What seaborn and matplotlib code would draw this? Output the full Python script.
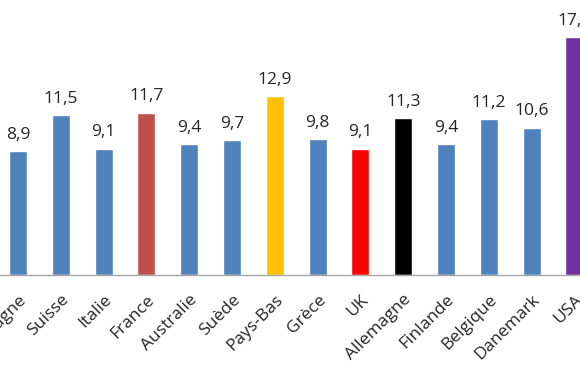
import matplotlib
matplotlib.use("Agg")
import matplotlib.pyplot as plt
import seaborn as sns
import pandas as pd

pays = ["Espagne", "Suisse", "Italie", "France", "Australie", "Suède", "Pays-Bas",
        "Grèce", "UK", "Allemagne", "Finlande", "Belgique", "Danemark", "USA"]
valeurs = [8.9, 11.5, 9.1, 11.7, 9.4, 9.7, 12.9, 9.8, 9.1, 11.3, 9.4, 11.2, 10.6, 17.1]
couleurs = ["#4F81BD", "#4F81BD", "#4F81BD", "#C0504D", "#4F81BD", "#4F81BD", "#FFC000",
            "#4F81BD", "#FF0000", "#000000", "#4F81BD", "#4F81BD", "#4F81BD", "#7030A0"]

df = pd.DataFrame({"pays": pays, "valeur": valeurs})

sns.set_style("white")
plt.rcParams["font.family"] = ["Open Sans", "DejaVu Sans"]

fig = plt.figure(figsize=(5.8, 3.75), dpi=100)
ax = fig.add_axes([0, 100 / 375, 1, 275 / 375])

sns.barplot(data=df, x="pays", y="valeur", hue="pays", palette=couleurs,
            width=0.42, saturation=1, legend=False, ax=ax)

# etiquettes de valeurs avec virgule
for cont, v in zip(ax.containers, valeurs):
    ax.bar_label(cont, labels=[f"{v:.1f}".replace(".", ",")], padding=6,
                 fontsize=12.5, color="#262626")

ax.set_xlim(-0.42, 13.13)
ax.set_ylim(0, 19.8)
ax.set_xlabel("")
ax.set_ylabel("")
ax.set_yticks([])
ax.tick_params(axis="x", length=0, pad=12)
plt.setp(ax.get_xticklabels(), rotation=45, ha="right", rotation_mode="anchor",
         fontsize=12.5, color="#262626")

for s in ["top", "left", "right"]:
    ax.spines[s].set_visible(False)
ax.spines["bottom"].set_color("#A6A6A6")
ax.spines["bottom"].set_linewidth(1)

fig.savefig("out.png", dpi=100)
